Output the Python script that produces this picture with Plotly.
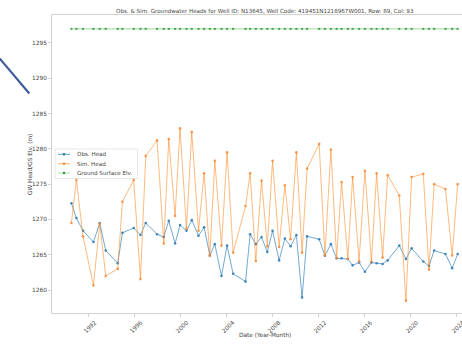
import plotly.graph_objects as go

# ---- data -------------------------------------------------------------
dates = [
    "1990-06-29", "1990-12-05", "1991-07-03", "1992-05-29", "1992-12-15",
    "1993-06-24", "1994-07-10", "1994-12-06", "1995-11-30", "1996-07-01",
    "1996-12-16", "1997-12-11", "1998-07-11", "1998-12-17", "1999-07-06",
    "1999-12-11", "2000-07-02", "2000-12-17", "2001-07-19", "2002-01-13",
    "2002-07-13", "2002-12-19", "2003-07-19", "2004-01-13", "2004-07-22",
    "2005-08-21", "2006-01-14", "2006-07-14", "2007-01-11", "2007-07-14",
    "2007-12-27", "2008-07-23", "2009-01-21", "2009-07-21", "2010-01-22",
    "2010-07-22", "2010-12-27", "2012-01-16", "2012-07-16", "2013-01-23",
    "2013-07-23", "2013-12-28", "2014-07-16", "2014-12-13", "2015-07-07",
    "2016-01-08", "2016-08-02", "2017-01-14", "2017-07-24", "2017-12-30",
    "2019-01-03", "2019-08-03", "2020-01-31", "2021-02-04", "2021-08-04",
    "2022-01-16", "2023-01-10", "2023-08-11", "2024-02-01",
]

obs_head = [
    1272.3, 1270.2, 1268.4, 1266.8, 1269.5, 1265.6, 1263.8, 1268.1, 1268.8, 1267.8,
    1269.5, 1267.9, 1267.5, 1269.8, 1266.6, 1269.2, 1268.4, 1269.9, 1267.7, 1268.9,
    1264.9, 1266.5, 1262.0, 1266.3, 1262.3, 1261.2, 1267.9, 1266.5, 1267.5, 1265.4,
    1268.4, 1264.2, 1267.3, 1266.2, 1267.8, 1258.95, 1267.6, 1267.2, 1264.85, 1266.5,
    1264.5, 1264.5, 1264.4, 1263.5, 1263.9, 1262.6, 1263.9, 1263.8, 1263.7, 1264.2,
    1266.3, 1264.4, 1265.9, 1264.05, 1263.4, 1265.6, 1265.1, 1263.1, 1265.1,
]

sim_head = [
    1269.5, 1275.6, 1267.6, 1260.65, 1269.4, 1262.0, 1263.0, 1272.5, 1275.6, 1261.55,
    1279.0, 1281.2, 1266.6, 1281.4, 1270.5, 1282.9, 1268.7, 1282.4, 1268.4, 1276.55,
    1264.85, 1278.3, 1266.3, 1279.5, 1265.3, 1271.9, 1276.55, 1264.1, 1275.5, 1266.2,
    1278.3, 1266.1, 1274.85, 1267.2, 1279.5, 1265.3, 1277.2, 1280.7, 1264.9, 1279.9,
    1264.5, 1275.3, 1264.4, 1276.0, 1264.05, 1276.9, 1264.05, 1276.55, 1264.6, 1276.3,
    1273.4, 1258.5, 1276.0, 1276.45, 1262.9, 1275.0, 1274.3, 1264.9, 1275.0,
]

gs_elev = [
    1297.0, 1297.0, 1297.0, 1297.0, 1297.0, 1297.0, 1297.0, 1297.0, 1297.0, 1297.0,
    1297.0, 1297.0, 1297.0, 1297.0, 1297.0, 1297.0, 1297.0, 1297.0, 1297.0, 1297.0,
    1297.0, 1297.0, 1297.0, 1297.0, 1297.0, 1297.0, 1297.0, 1297.0, 1297.0, 1297.0,
    1297.0, 1297.0, 1297.0, 1297.0, 1297.0, 1297.0, 1297.0, 1297.0, 1297.0, 1297.0,
    1297.0, 1297.0, 1297.0, 1297.0, 1297.0, 1297.0, 1297.0, 1297.0, 1297.0, 1297.0,
    1297.0, 1297.0, 1297.0, 1297.0, 1297.0, 1297.0, 1297.0, 1297.0, 1297.0,
]

series_names = ["Obs. Head", "Sim. Head", "Ground Surface Elv."]
series_colors = ["#2a78b0", "#f5883a", "#2f9a3a"]
series_line_colors = ["rgba(31,119,180,0.7)", "rgba(255,127,14,0.6)", "rgba(44,160,44,0.35)"]

title_text = ("Obs. & Sim. Groundwater Heads for Well ID: N13645, "
              "Well Code: 419451N1218967W001, Row: 89, Col: 93")
x_title = "Date (Year-Month)"
y_title = "GW Head/GS Elv. (m)"

# ---- layout geometry --------------------------------------------------
W, H = 462, 346
M_L, M_T, M_B, M_R = 52, 15, 33, 0
FONT = "DejaVu Sans"
TEXT = "#444444"
SPINE = "#d2d2d2"


def px_x(x):
    return (x - M_L) / (W - M_L - M_R)


def px_y(y):
    return (H - M_B - y) / (H - M_T - M_B)


fig = go.Figure()
series = [obs_head, sim_head, gs_elev]
line_widths = [0.9, 0.9, 1.4]
marker_sizes = [2.6, 2.6, 2.4]
for vals, name, col, lcol, lw, ms in zip(series, series_names, series_colors,
                                          series_line_colors, line_widths, marker_sizes):
    fig.add_trace(go.Scatter(
        x=dates, y=vals, name=name, mode="lines+markers",
        line=dict(color=lcol, width=lw),
        marker=dict(color=col, size=ms, opacity=0.85),
        showlegend=False,
    ))

# ---- legend box (drawn in paper space) --------------------------------
shapes = []
annotations = []
shapes.append(dict(
    type="rect", xref="paper", yref="paper",
    x0=px_x(55), x1=px_x(137.5), y0=px_y(178.5), y1=px_y(149),
    line=dict(color="#e0e0e0", width=0.8),
    fillcolor="rgba(255,255,255,0.8)", layer="above",
))
row_y = [154.3, 163.7, 173.0]
for ry, name, col, lcol in zip(row_y, series_names, series_colors, series_line_colors):
    shapes.append(dict(
        type="line", xref="paper", yref="paper",
        x0=px_x(58), x1=px_x(70), y0=px_y(ry), y1=px_y(ry),
        line=dict(color=lcol, width=1.0), layer="above",
    ))
    shapes.append(dict(
        type="circle", xref="paper", yref="paper",
        xsizemode="pixel", ysizemode="pixel",
        xanchor=px_x(64), yanchor=px_y(ry),
        x0=-1.3, x1=1.3, y0=-1.3, y1=1.3,
        fillcolor=col, line=dict(width=0), layer="above",
    ))
    annotations.append(dict(
        text=name, xref="paper", yref="paper",
        x=px_x(74.5), y=px_y(ry), xanchor="left", yanchor="middle",
        showarrow=False, font=dict(family=FONT, size=5.6, color=TEXT),
    ))

# pointer stroke at the left edge
shapes.append(dict(
    type="line", xref="paper", yref="paper",
    x0=px_x(-2), y0=px_y(56.5), x1=px_x(29.3), y1=px_y(93.5),
    line=dict(color="#3f5b9c", width=2.2),
))

# ---- titles ------------------------------------------------------------
annotations.append(dict(
    text=title_text, xref="paper", yref="paper",
    x=px_x(265), y=px_y(10.7), xanchor="center", yanchor="middle",
    showarrow=False, font=dict(family=FONT, size=5.6, color=TEXT),
))
annotations.append(dict(
    text=x_title, xref="paper", yref="paper",
    x=px_x(265), y=px_y(335), xanchor="center", yanchor="middle",
    showarrow=False, font=dict(family=FONT, size=5.8, color=TEXT),
))
annotations.append(dict(
    text=y_title, xref="paper", yref="paper",
    x=px_x(30), y=px_y(165), xanchor="center", yanchor="middle",
    textangle=-90, showarrow=False, font=dict(family=FONT, size=5.8, color=TEXT),
))

fig.update_layout(
    width=W, height=H,
    margin=dict(l=M_L, r=M_R, t=M_T, b=M_B, pad=0),
    paper_bgcolor="white", plot_bgcolor="white",
    font=dict(family=FONT, size=5.8, color=TEXT),
    shapes=shapes, annotations=annotations,
    showlegend=False,
)
fig.update_xaxes(
    range=["1988-10-21", "2024-06-18"],
    tick0="1992-01-01", dtick="M48", tickformat="%Y",
    tickangle=-45, ticklabelshift=6, ticklabeloverflow="allow",
    showgrid=False, zeroline=False,
    showline=True, linecolor=SPINE, linewidth=1, mirror=True,
    ticks="outside", ticklen=3, tickcolor=SPINE,
    tickfont=dict(family=FONT, size=5.8, color=TEXT),
    automargin=False,
)
fig.update_yaxes(
    range=[1256.75, 1298.96],
    tick0=1260, dtick=5,
    showgrid=False, zeroline=False,
    showline=True, linecolor=SPINE, linewidth=1, mirror=False,
    ticks="outside", ticklen=3, tickcolor=SPINE,
    tickfont=dict(family=FONT, size=5.8, color=TEXT),
    automargin=False,
)

fig.write_html("out.html")
